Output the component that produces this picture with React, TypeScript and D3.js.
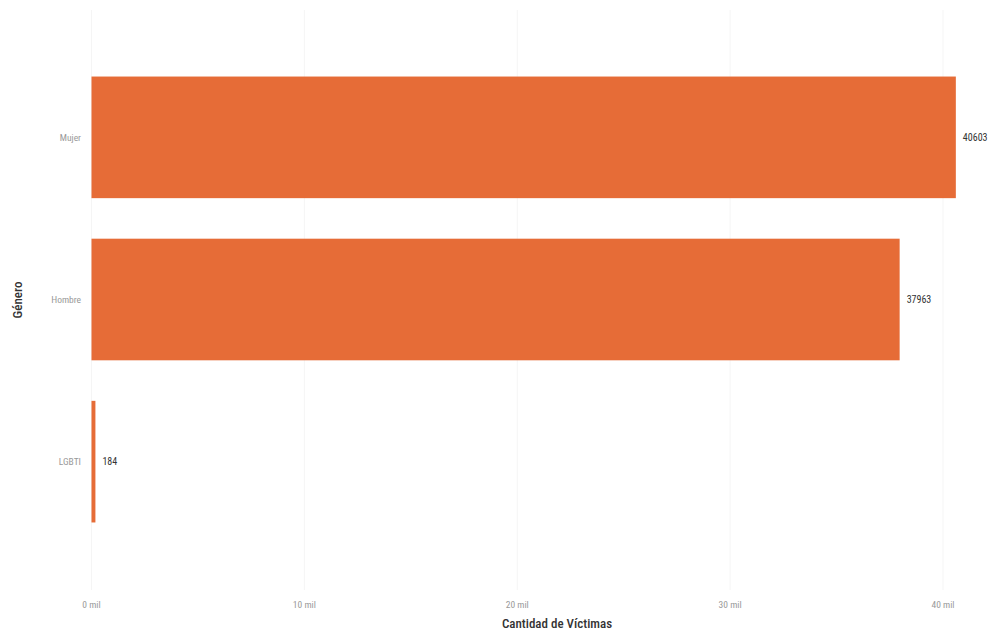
import React from "react";
import * as d3 from "d3";

const categories = ["Mujer", "Hombre", "LGBTI"];
const values = [40603, 37963, 184];
const xTicks = [0, 10000, 20000, 30000, 40000];
const xTickLabels = ["0 mil", "10 mil", "20 mil", "30 mil", "40 mil"];

const W = 999;
const H = 632;
const FONT = "'DIN', 'Liberation Sans Narrow', 'Roboto Condensed', 'DejaVu Sans Condensed', 'Liberation Sans', sans-serif";

export default function App() {
  const x = d3.scaleLinear().domain([0, 40000]).range([91.5, 943]);
  const y = d3
    .scaleBand<string>()
    .domain(categories)
    .range([36, 563])
    .paddingInner(0.25)
    .paddingOuter(0.25);

  return (
    <svg
      width={W}
      height={H}
      style={{ position: "absolute", left: 0, top: 0, background: "#fff" }}
      fontFamily={FONT}
    >
      {xTicks.map((t) => (
        <line
          key={t}
          x1={x(t)}
          x2={x(t)}
          y1={10}
          y2={590}
          stroke="#f5f5f5"
          strokeWidth={1}
        />
      ))}
      {categories.map((c, i) => (
        <rect
          key={c}
          x={x(0)}
          y={y(c)}
          width={Math.max(0, x(values[i]) - x(0))}
          height={y.bandwidth()}
          fill="#E66C37"
        />
      ))}
      {categories.map((c, i) => (
        <text
          key={c + "v"}
          x={x(values[i]) + 7}
          y={(y(c) as number) + y.bandwidth() / 2}
          dy="0.35em"
          fontSize={10}
          fill="#333"
        >
          {values[i]}
        </text>
      ))}
      {categories.map((c) => (
        <text
          key={c + "l"}
          x={81}
          y={(y(c) as number) + y.bandwidth() / 2}
          dy="0.35em"
          textAnchor="end"
          fontSize={9.5}
          fill="#999"
        >
          {c}
        </text>
      ))}
      {xTicks.map((t, i) => (
        <text
          key={t + "t"}
          x={x(t)}
          y={608}
          textAnchor="middle"
          fontSize={9.5}
          fill="#999"
        >
          {xTickLabels[i]}
        </text>
      ))}
      <text
        x={557}
        y={628}
        textAnchor="middle"
        fontSize={13}
        fontWeight={500}
        fill="#333"
      >
        Cantidad de Víctimas
      </text>
      <text
        transform={`translate(22, 300) rotate(-90)`}
        textAnchor="middle"
        fontSize={13}
        fontWeight={500}
        fill="#333"
      >
        Género
      </text>
    </svg>
  );
}
